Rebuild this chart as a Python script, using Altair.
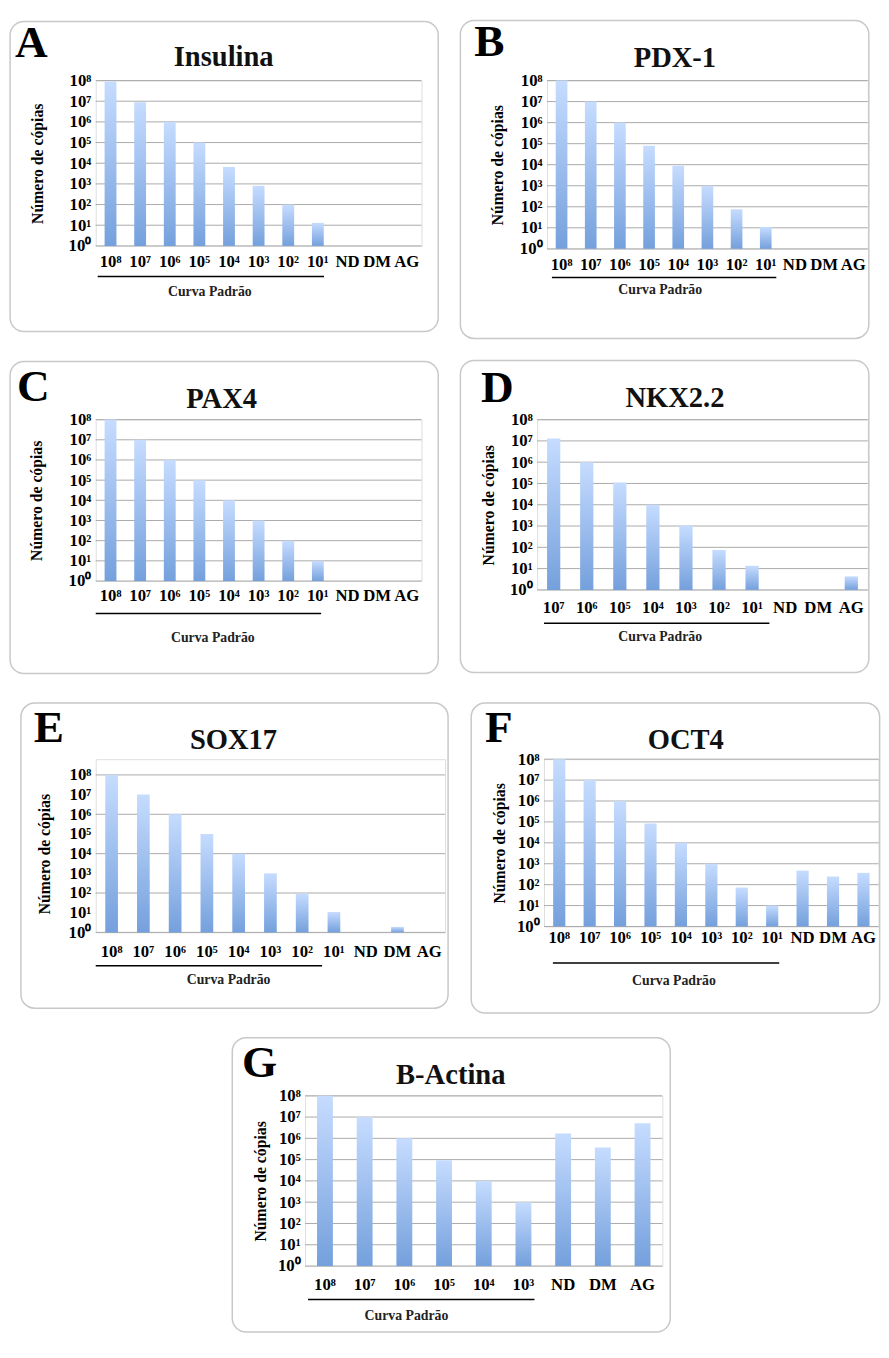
import altair as alt
import pandas as pd

# ---------------- data ----------------
STD8 = ["10⁸", "10⁷", "10⁶", "10⁵", "10⁴", "10³", "10²", "10¹"]
SAMPLES = ["ND", "DM", "AG"]

Y_TICKS = [1, 10, 100, 1e3, 1e4, 1e5, 1e6, 1e7, 1e8]
Y_LABELS = ["10⁰", "10¹", "10²", "10³", "10⁴", "10⁵", "10⁶", "10⁷", "10⁸"]
GRID_EVERY = [1, 10, 100, 1e3, 1e4, 1e5, 1e6, 1e7, 1e8]
GRID_EVEN = [1, 100, 1e4, 1e6, 1e8]

insulina_cats = STD8 + SAMPLES
insulina_vals = [8.9e7, 9.0e6, 1.0e6, 1.0e5, 6.6e3, 8.1e2, 1.0e2, 13, None, None, None]

pdx1_cats = STD8 + SAMPLES
pdx1_vals = [1.0e8, 1.0e7, 1.0e6, 8.0e4, 8.9e3, 1.0e3, 77, 11, None, None, None]

pax4_cats = STD8 + SAMPLES
pax4_vals = [1.0e8, 1.0e7, 1.0e6, 1.0e5, 1.0e4, 1.0e3, 1.0e2, 10, None, None, None]

nkx22_cats = STD8[1:] + SAMPLES
nkx22_vals = [1.3e7, 1.0e6, 1.1e5, 1.0e4, 1.07e3, 75, 13.5, None, None, 4.3]

sox17_cats = STD8 + SAMPLES
sox17_vals = [1.0e8, 1.0e7, 1.0e6, 1.0e5, 1.0e4, 1.0e3, 93, 10.8, None, 1.9, None]

oct4_cats = STD8 + SAMPLES
oct4_vals = [1.0e8, 1.0e7, 1.0e6, 8.4e4, 1.0e4, 1.0e3, 73, 10, 470, 245, 365]

bactina_cats = STD8[:6] + SAMPLES
bactina_vals = [1.0e8, 1.0e7, 1.0e6, 9.3e4, 1.0e4, 1.0e3, 1.7e6, 3.7e5, 5.1e6]

# ---------------- styling / layout ----------------
FONT = "Liberation Serif"
GRAD = alt.Gradient(
    gradient="linear", x1=0, x2=0, y1=0, y2=1,
    stops=[alt.GradientStop(color="#c6dcff", offset=0),
           alt.GradientStop(color="#74a0dc", offset=1)],
)
LABEL_EXPR = "[" + ",".join("'%s'" % s for s in Y_LABELS) + "][round(log(datum.value)/LN10)]"

# all offsets are pixels relative to the plot area's top-left corner
LAYOUT = {
    "A": dict(w=331, h=168, box=(-87, -60, 348, 255), letter=(-82, -60), title=(130, -24),
              ylab=59, xlab=16, line=(2, 232, 31), cap=(116, 47)),
    "B": dict(w=326, h=171, box=(-88, -61, 327, 262), letter=(-74, -61), title=(130, -23),
              ylab=50, xlab=16, line=(5, 233, 29), cap=(115, 42)),
    "C": dict(w=331, h=164, box=(-87, -59, 348, 258), letter=(-80, -55), title=(128, -21),
              ylab=60, xlab=15, line=(0, 229, 33), cap=(119, 58)),
    "D": dict(w=336, h=173, box=(-78, -60, 337, 257), letter=(-57, -54), title=(140, -22),
              ylab=49, xlab=18, line=(7, 236, 34), cap=(125, 48)),
    "E": dict(w=355, h=160, box=(-76, -73, 358, 237), letter=(-63, -69), title=(140, -35),
              ylab=52, xlab=19, line=(0, 230, 34), cap=(135, 48), shift=16),
    "F": dict(w=340, h=170, box=(-74, -57, 341, 258), letter=(-60, -53), title=(144, -19),
              ylab=45, xlab=11, line=(9, 239, 37), cap=(132, 55)),
    "G": dict(w=363, h=173, box=(-74, -59, 371, 240), letter=(-64, -55), title=(148, -21),
              ylab=45, xlab=19, line=(3, 233, 34), cap=(103, 51)),
}

ONE = pd.DataFrame({"k": [0]})


def panel(letter, title, cats, vals, grid_vals):
    L = LAYOUT[letter]
    w, h = L["w"], L["h"]
    s = L.get("shift", 0)          # empty band above the plot inside the view
    hv = h + s
    yscale = alt.Scale(type="log", domain=[1, 1e8], nice=False, range=[hv, s])
    xscale = alt.Scale(domain=cats, paddingInner=0.6, paddingOuter=0.3)
    yaxis = alt.Axis(values=Y_TICKS, labelExpr=LABEL_EXPR, grid=False,
                     ticks=False, domain=False, labelFont=FONT,
                     labelFontWeight="bold", labelFontSize=17, zindex=1,
                     labelColor="black", labelPadding=5,
                     labelOverlap=False, labelFlush=False,
                     title="Número de cópias", titleFont=FONT,
                     titleFontWeight="bold", titleFontSize=16,
                     titleColor="black", titleAngle=-90,
                     titleX=-L["ylab"], titleY=s + h / 2,
                     titleAlign="center", titleBaseline="middle")

    bars_df = pd.DataFrame({"cat": cats, "val": vals}).dropna()
    grid_df = pd.DataFrame({"val": grid_vals})

    x0, y0, x1, y1 = L["box"]
    box = alt.Chart(ONE).mark_rect(
        cornerRadius=14, fill="white", fillOpacity=0, stroke="#c8c8c8", strokeWidth=1.5
    ).encode(x=alt.value(x0), x2=alt.value(x1), y=alt.value(y0 + s), y2=alt.value(y1 + s))

    grid = alt.Chart(grid_df).mark_rule(color="#a9a9a9", strokeWidth=1).encode(
        y=alt.Y("val:Q", scale=yscale, axis=yaxis)
    )

    bars = alt.Chart(bars_df).mark_bar(color=GRAD).encode(
        x=alt.X("cat:N", sort=cats, scale=xscale, title=None,
                axis=alt.Axis(labelAngle=0, labelFont=FONT, labelFontWeight="bold",
                              labelFontSize=17, labelColor="black", ticks=False,
                              domain=False, labelBaseline="middle", zindex=1,
                              labelPadding=L["xlab"])),
        y=alt.Y("val:Q", scale=yscale, axis=yaxis),
        y2=alt.datum(1),
    )

    lx, ly = L["letter"]
    letter_t = alt.Chart(ONE).mark_text(
        align="left", baseline="top", font=FONT, fontWeight="bold",
        fontSize=46, color="black"
    ).encode(x=alt.value(lx), y=alt.value(ly + s), text=alt.value(letter))

    tx, ty = L["title"]
    title_t = alt.Chart(ONE).mark_text(
        align="center", baseline="middle", font=FONT, fontWeight="bold",
        fontSize=29, color="#111111"
    ).encode(x=alt.value(tx), y=alt.value(ty + s), text=alt.value(title))

    la, lb, ldy = L["line"]
    underline = alt.Chart(ONE).mark_rule(color="black", strokeWidth=1.5).encode(
        x=alt.value(la), x2=alt.value(lb), y=alt.value(hv + ldy)
    )

    cx, cdy = L["cap"]
    caption = alt.Chart(ONE).mark_text(
        align="center", baseline="middle", font=FONT, fontWeight="bold",
        fontSize=14, color="#222222"
    ).encode(x=alt.value(cx), y=alt.value(hv + cdy), text=alt.value("Curva Padrão"))

    return alt.layer(box, grid, bars, letter_t, title_t, underline, caption).properties(
        width=w, height=hv
    )


pA = panel("A", "Insulina", insulina_cats, insulina_vals, GRID_EVERY)
pB = panel("B", "PDX-1", pdx1_cats, pdx1_vals, GRID_EVERY)
pC = panel("C", "PAX4", pax4_cats, pax4_vals, GRID_EVERY)
pD = panel("D", "NKX2.2", nkx22_cats, nkx22_vals, GRID_EVERY)
pE = panel("E", "SOX17", sox17_cats, sox17_vals, GRID_EVEN)
pF = panel("F", "OCT4", oct4_cats, oct4_vals, GRID_EVERY)
pG = panel("G", "B-Actina", bactina_cats, bactina_vals, GRID_EVERY)

row1 = alt.hconcat(pA, pB, spacing=18.5)
row2 = alt.hconcat(pC, pD, spacing=18.5)
row3 = alt.hconcat(pE, pF, spacing=19.5)

top2 = alt.vconcat(row1, row2, spacing=18.5)
top3 = alt.vconcat(top2, row3, spacing=26.5)
chart = alt.vconcat(top3, pG, spacing=21.5, center=True).properties(
    padding=0,
    autosize=alt.AutoSizeParams(type="pad"),
).configure_view(stroke="transparent", strokeWidth=0).configure(
    background="white", padding=0
)

chart.save("out.html", embed_options={"renderer": "svg", "actions": False})
